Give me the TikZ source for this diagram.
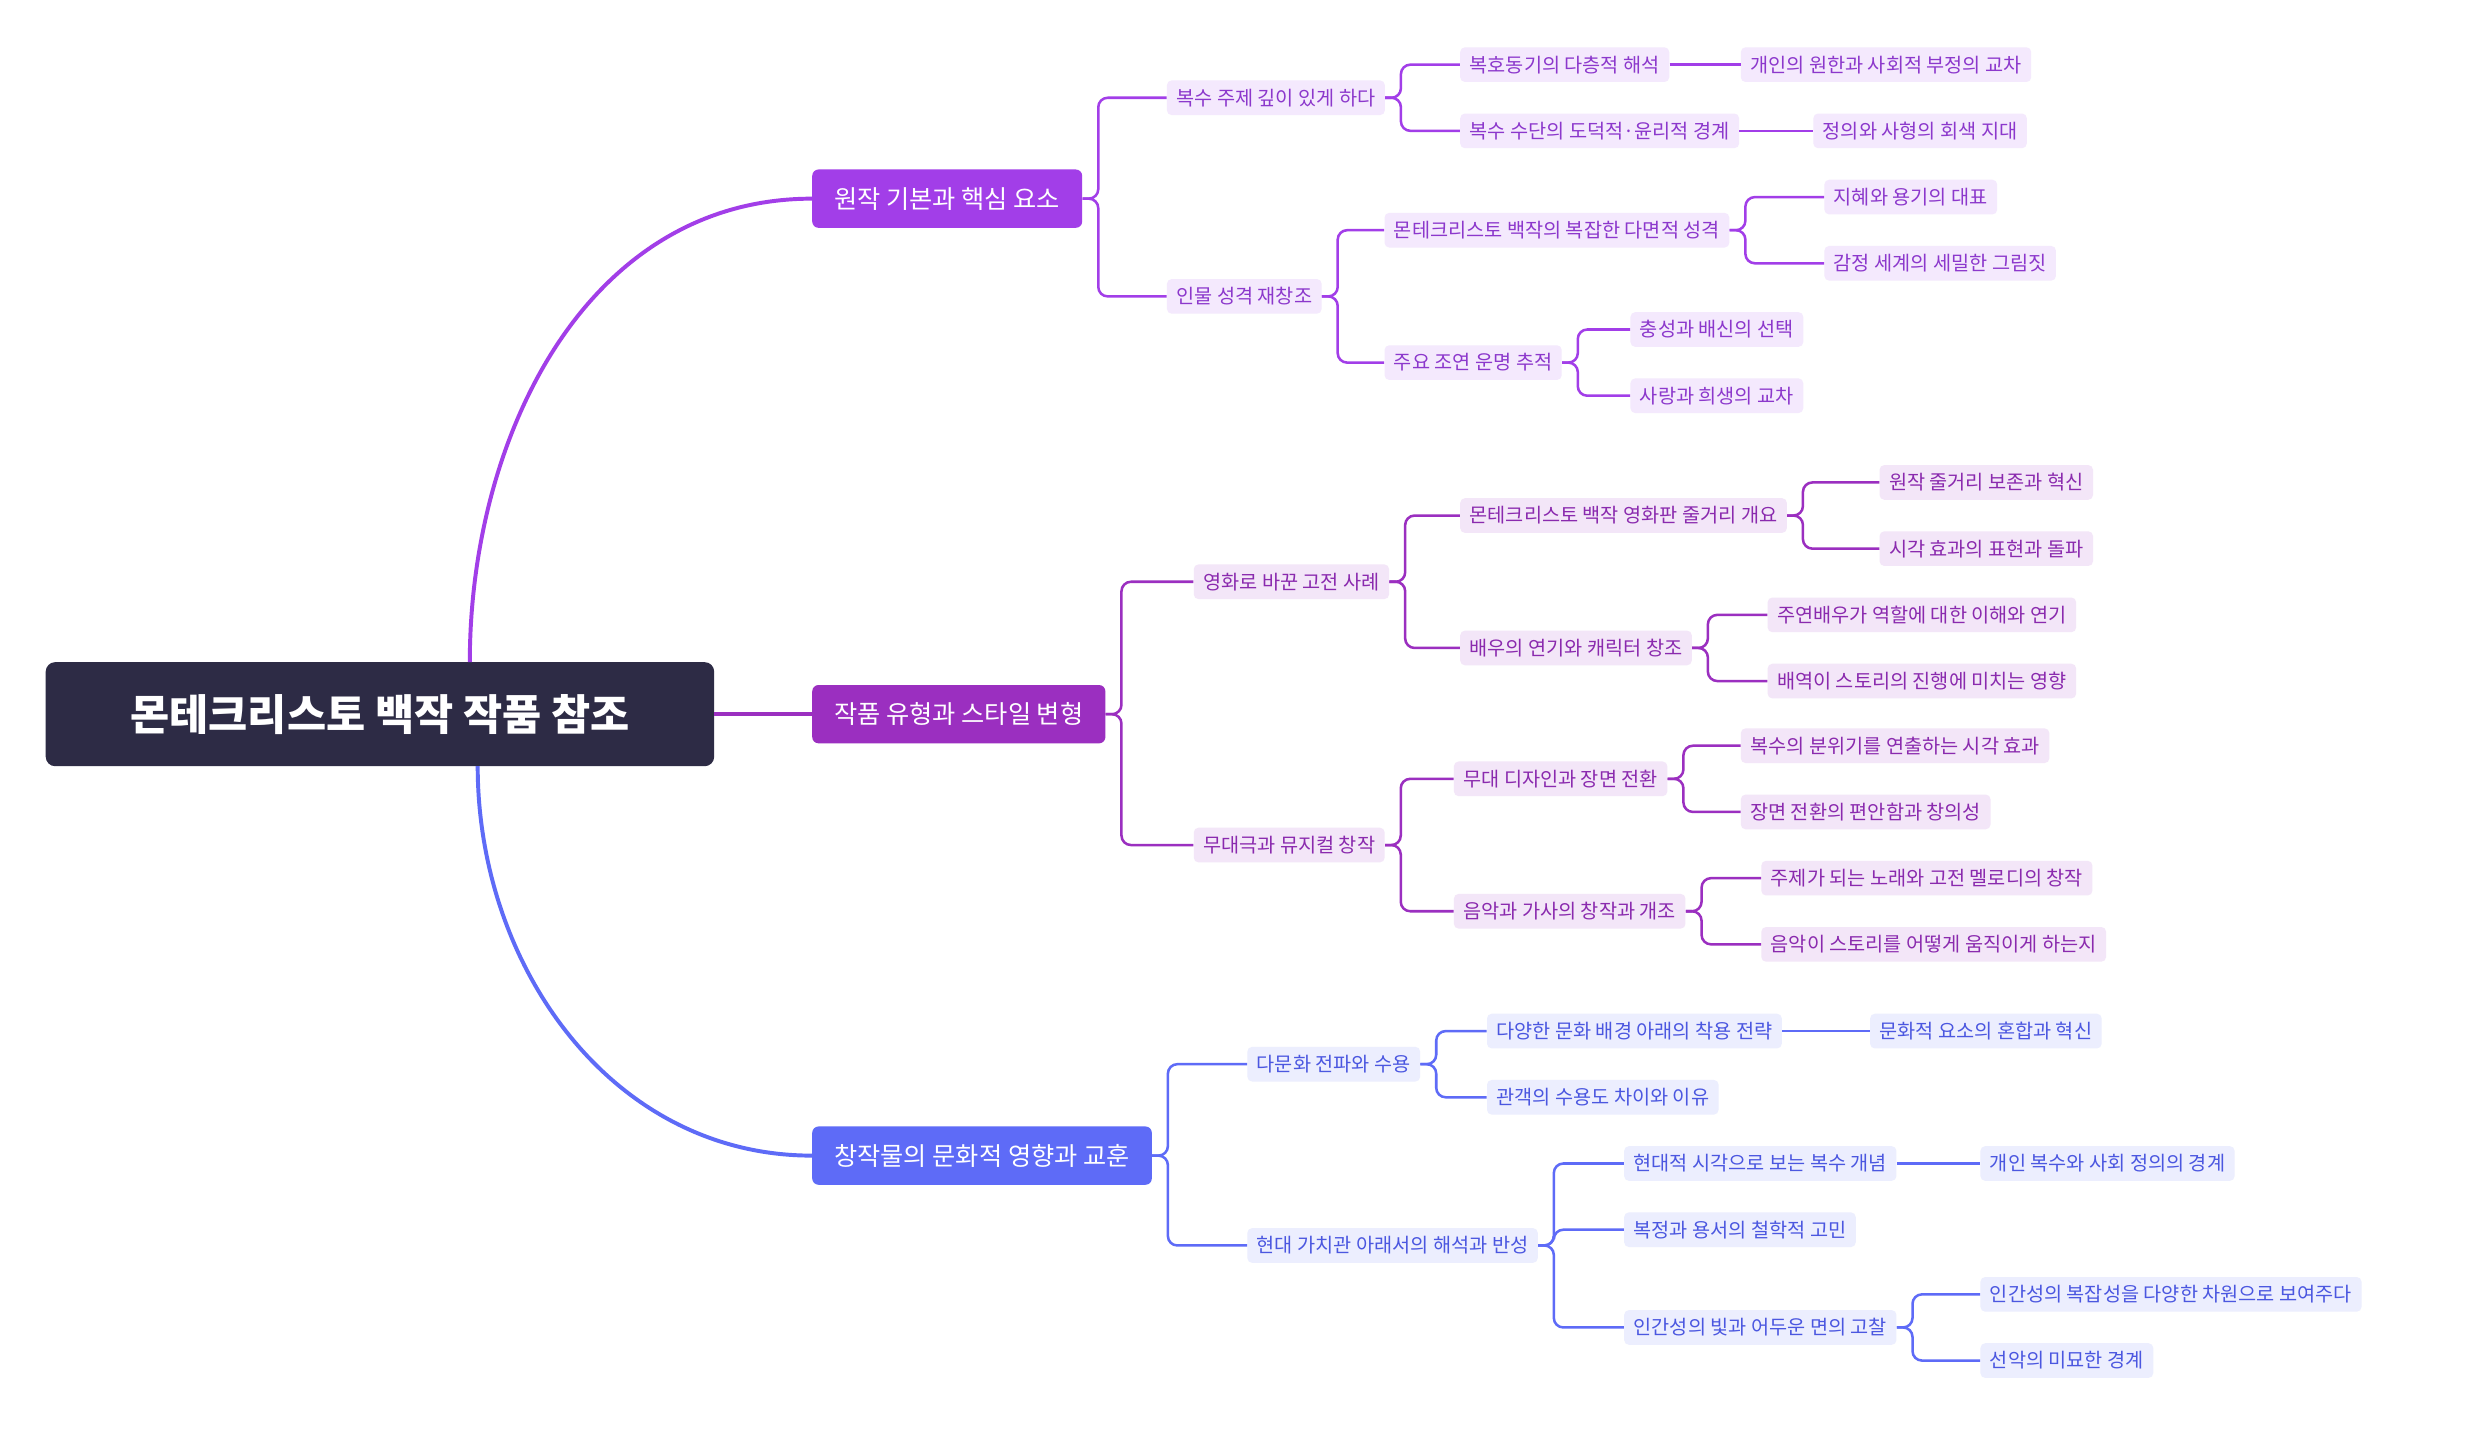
\documentclass[tikz,border=0pt]{standalone}
\usepackage{fontspec}
\setmainfont{Noto Sans CJK KR}
\definecolor{rootc}{HTML}{2D2B45}
\definecolor{ca}{HTML}{A23EE8}\definecolor{fa}{HTML}{F4E9FD}\definecolor{ta}{HTML}{8C38CC}
\definecolor{cb}{HTML}{9B2FC0}\definecolor{fb}{HTML}{F3E6F8}\definecolor{tb}{HTML}{8A2AAE}
\definecolor{cc}{HTML}{5E6BF7}\definecolor{fc}{HTML}{ECEEFE}\definecolor{tc}{HTML}{4B57E0}
\tikzset{
 leaf/.style={anchor=west,rounded corners=3pt,inner xsep=6pt,minimum height=22pt,font=\fontsize{12.5}{14}\selectfont},
 la/.style={leaf,fill=fa,text=ta},lb/.style={leaf,fill=fb,text=tb},lc/.style={leaf,fill=fc,text=tc},
 br/.style={anchor=west,rounded corners=4pt,text=white,inner xsep=14pt,minimum height=37pt,font=\fontsize{16}{18}\selectfont},
 ka/.style={draw=ca,line width=1.6pt,rounded corners=6pt},
 kb/.style={draw=cb,line width=1.6pt,rounded corners=6pt},
 kc/.style={draw=cc,line width=1.6pt,rounded corners=6pt},
}
\newcommand{\cn}[3]{\draw[#1] (#2.east) -- ++(10,0) |- (#3.west);}
\begin{document}
\begin{tikzpicture}[x=1pt,y=-1pt]
\useasboundingbox[fill=white] (0,0) rectangle (1568,906);
\node[fill=rootc,rounded corners=6pt,text=white,minimum width=424pt,minimum height=66pt,font=\fontsize{27}{30}\bfseries\selectfont] (root) at (241,453) {몬테크리스토 백작 작품 참조};
\node[br,fill=ca] (b1) at (515,126) {원작 기본과 핵심 요소};
\node[br,fill=cb] (b2) at (515,453) {작품 유형과 스타일 변형};
\node[br,fill=cc] (b3) at (515,733) {창작물의 문화적 영향과 교훈};
\draw[ca,line width=2.5pt] (298,420) to[out=90,in=180] (b1.west);
\draw[cb,line width=2.5pt] (root.east) -- (b2.west);
\draw[cc,line width=2.5pt] (303,486) to[out=-90,in=180] (b3.west);
% branch 1
\node[la] (a1) at (740,62) {복수 주제 깊이 있게 하다};
\node[la] (a2) at (740,188) {인물 성격 재창조};
\node[la] (a11) at (926,41) {복호동기의 다층적 해석};
\node[la] (a111) at (1104,41) {개인의 원한과 사회적 부정의 교차};
\node[la] (a12) at (926,83) {복수 수단의 도덕적·윤리적 경계};
\node[la] (a121) at (1150,83) {정의와 사형의 회색 지대};
\node[la] (a21) at (878,146) {몬테크리스토 백작의 복잡한 다면적 성격};
\node[la] (a211) at (1157,125) {지혜와 용기의 대표};
\node[la] (a212) at (1157,167) {감정 세계의 세밀한 그림짓};
\node[la] (a22) at (878,230) {주요 조연 운명 추적};
\node[la] (a221) at (1034,209) {충성과 배신의 선택};
\node[la] (a222) at (1034,251) {사랑과 희생의 교차};
\foreach \p/\c in {b1/a1,b1/a2,a1/a11,a1/a12,a2/a21,a2/a22,a21/a211,a21/a212,a22/a221,a22/a222}{\cn{ka}{\p}{\c}}
\draw[ka] (a11.east) -- (a111.west); \draw[ka] (a12.east) -- (a121.west);
% branch 2
\node[lb] (c1) at (757,369) {영화로 바꾼 고전 사례};
\node[lb] (c2) at (757,536) {무대극과 뮤지컬 창작};
\node[lb] (c11) at (926,327) {몬테크리스토 백작 영화판 줄거리 개요};
\node[lb] (c111) at (1192,306) {원작 줄거리 보존과 혁신};
\node[lb] (c112) at (1192,348) {시각 효과의 표현과 돌파};
\node[lb] (c12) at (926,411) {배우의 연기와 캐릭터 창조};
\node[lb] (c121) at (1121,390) {주연배우가 역할에 대한 이해와 연기};
\node[lb] (c122) at (1121,432) {배역이 스토리의 진행에 미치는 영향};
\node[lb] (c21) at (922,494) {무대 디자인과 장면 전환};
\node[lb] (c211) at (1104,473) {복수의 분위기를 연출하는 시각 효과};
\node[lb] (c212) at (1104,515) {장면 전환의 편안함과 창의성};
\node[lb] (c22) at (922,578) {음악과 가사의 창작과 개조};
\node[lb] (c221) at (1117,557) {주제가 되는 노래와 고전 멜로디의 창작};
\node[lb] (c222) at (1117,599) {음악이 스토리를 어떻게 움직이게 하는지};
\foreach \p/\c in {b2/c1,b2/c2,c1/c11,c1/c12,c2/c21,c2/c22,c11/c111,c11/c112,c12/c121,c12/c122,c21/c211,c21/c212,c22/c221,c22/c222}{\cn{kb}{\p}{\c}}
% branch 3
\node[lc] (d1) at (791,675) {다문화 전파와 수용};
\node[lc] (d2) at (791,790) {현대 가치관 아래서의 해석과 반성};
\node[lc] (d11) at (943,654) {다양한 문화 배경 아래의 착용 전략};
\node[lc] (d111) at (1186,654) {문화적 요소의 혼합과 혁신};
\node[lc] (d12) at (943,696) {관객의 수용도 차이와 이유};
\node[lc] (d21) at (1030,738) {현대적 시각으로 보는 복수 개념};
\node[lc] (d211) at (1256,738) {개인 복수와 사회 정의의 경계};
\node[lc] (d22) at (1030,780) {복정과 용서의 철학적 고민};
\node[lc] (d23) at (1030,842) {인간성의 빛과 어두운 면의 고찰};
\node[lc] (d231) at (1256,821) {인간성의 복잡성을 다양한 차원으로 보여주다};
\node[lc] (d232) at (1256,863) {선악의 미묘한 경계};
\foreach \p/\c in {b3/d1,b3/d2,d1/d11,d1/d12,d2/d21,d2/d22,d2/d23,d23/d231,d23/d232}{\cn{kc}{\p}{\c}}
\draw[kc] (d11.east) -- (d111.west); \draw[kc] (d21.east) -- (d211.west);
\end{tikzpicture}
\end{document}
